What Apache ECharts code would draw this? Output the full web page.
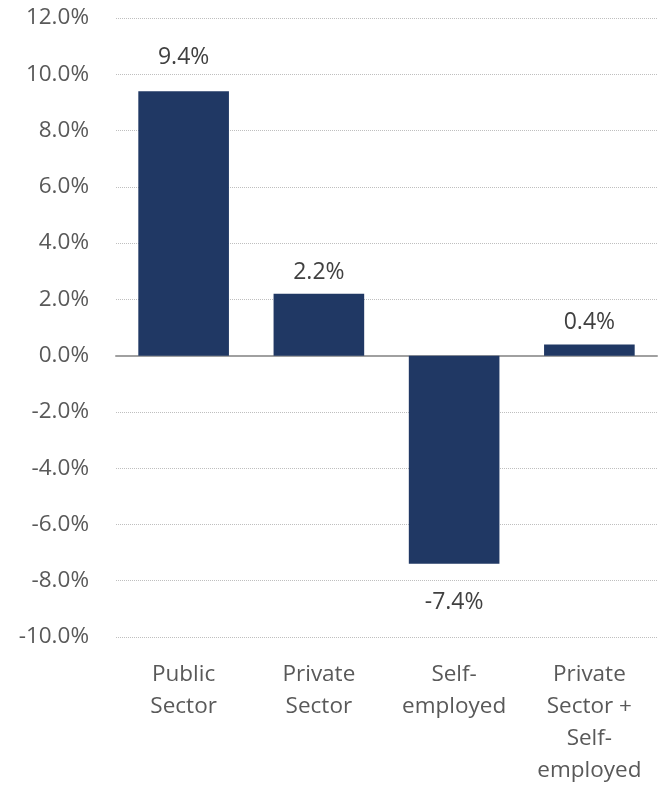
<!DOCTYPE html>
<html><head><meta charset="utf-8">
<script src="https://cdn.jsdelivr.net/npm/echarts@6/dist/echarts.min.js"></script>
<style>html,body{margin:0;padding:0;background:#fff}#c{width:662px;height:787px}</style>
</head><body><div id="c"></div>
<script>
const categories = ["Public\nSector", "Private\nSector", "Self-\nemployed", "Private\nSector +\nSelf-\nemployed"];
const values = [9.4, 2.2, -7.4, 0.4];
const yMin = -10, yMax = 12, yStep = 2;

const FONT = '"Open Sans", "Noto Sans", sans-serif';
const labelDist = [22, 10, 27, 10];
const chart = echarts.init(document.getElementById('c'));
chart.setOption({
  animation: false,
  grid: { left: 116, right: 5, top: 18, bottom: 150, containLabel: false },
  xAxis: {
    type: 'category', data: categories,
    axisLine: { onZero: true, lineStyle: { color: '#a0a0a0', width: 2 } },
    axisTick: { show: false },
    axisLabel: { color: '#595959', fontSize: 22.5, lineHeight: 32, fontFamily: FONT, margin: 22, interval: 0 },
    position: 'bottom'
  },
  yAxis: {
    type: 'value', min: yMin, max: yMax, interval: yStep,
    axisLine: { show: false }, axisTick: { show: false },
    splitLine: { lineStyle: { color: '#bfbfbf', type: [1, 1], width: 1 } },
    axisLabel: { color: '#595959', fontSize: 22.5, fontFamily: FONT, margin: 27,
      formatter: v => v.toFixed(1) + '%' }
  },
  series: [{
    type: 'bar', barWidth: '67%',
    itemStyle: { color: '#203864' },
    data: values.map((v, i) => ({
      value: v,
      label: { show: true, position: v >= 0 ? 'top' : 'bottom', distance: labelDist[i],
        color: '#404040', fontSize: 23, fontFamily: FONT,
        formatter: p => p.value.toFixed(1) + '%' }
    }))
  }]
});
</script></body></html>
